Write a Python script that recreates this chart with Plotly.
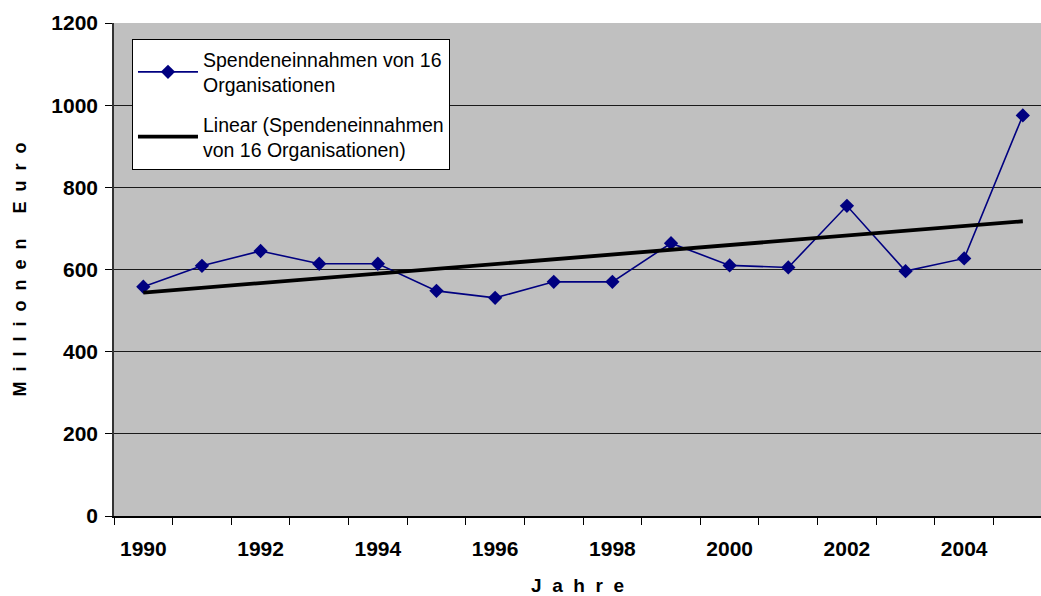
import numpy as np
import plotly.graph_objects as go

years = list(range(1990, 2006))
donations = [558, 609, 645, 614, 614, 548, 531, 570, 570, 664, 610, 605, 755, 596, 627, 975]
tick_years = [1990, 1992, 1994, 1996, 1998, 2000, 2002, 2004]
tick_labels = [str(y) for y in tick_years]
y_ticks = [0, 200, 400, 600, 800, 1000, 1200]

series_name = "Spendeneinnahmen von 16<br>Organisationen"
trend_name = "Linear (Spendeneinnahmen<br>von 16 Organisationen)"

slope, intercept = np.polyfit(years, donations, 1)
trend = [slope * y + intercept for y in years]

FONT = "Liberation Sans, Arial, sans-serif"

def spaced(s):
    return " \u00a0".join(list(s))

fig = go.Figure()
fig.add_trace(go.Scatter(
    x=years, y=donations, name=series_name, mode="lines+markers",
    legendgroup="a",
    line=dict(color="#000080", width=1.6),
    marker=dict(symbol="diamond", size=11, color="#000080"),
))
fig.add_trace(go.Scatter(
    x=years, y=trend, name=trend_name, mode="lines",
    legendgroup="b",
    line=dict(color="#000000", width=3.8),
))

fig.update_layout(
    width=1041, height=596,
    margin=dict(l=114, r=0, t=23, b=80),
    paper_bgcolor="white",
    plot_bgcolor="#C0C0C0",
    font=dict(family=FONT, color="black"),
    legend=dict(
        x=0.0194, y=0.9675, xanchor="left", yanchor="top",
        bgcolor="white", bordercolor="black", borderwidth=1,
        font=dict(family=FONT, size=19.5, color="black"),
        itemwidth=60, tracegroupgap=11,
    ),
    showlegend=True,
)

fig.update_xaxes(
    range=[1989.5, 2005.31],
    tickmode="array", tickvals=tick_years, ticktext=tick_labels,
    ticks="", ticklabelstandoff=13,
    tickfont=dict(family=FONT, size=21, color="black", weight="bold"),
    showgrid=False, zeroline=False,
    showline=True, linecolor="black", linewidth=1.5,
    minor=dict(tick0=1989.5, dtick=1, ticks="outside", ticklen=7, tickcolor="black", tickwidth=1, showgrid=False),
    title=dict(text=spaced("Jahre"), font=dict(family=FONT, size=19, color="black", weight="bold"), standoff=22),
)
fig.update_yaxes(
    range=[0, 1200],
    tickmode="array", tickvals=y_ticks,
    ticks="outside", ticklen=7, tickcolor="black", tickwidth=1,
    ticklabelstandoff=3,
    tickfont=dict(family=FONT, size=21, color="black", weight="bold"),
    showgrid=True, gridcolor="#1a1a1a", gridwidth=1,
    zeroline=False,
    showline=True, linecolor="#333333", linewidth=1.5,
    title=dict(text=spaced("Millionen Euro"), font=dict(family=FONT, size=18, color="black", weight="bold"), standoff=20),
)

fig.write_html("out.html", config={"displayModeBar": False},
               post_script="document.body.style.margin='0';document.body.style.overflow='hidden';")
